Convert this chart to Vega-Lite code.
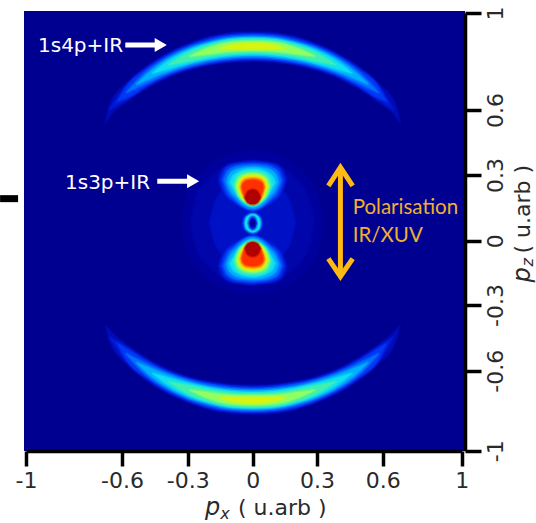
{"$schema":"https://vega.github.io/schema/vega-lite/v6.json","width":441,"height":440,"autosize":{"type":"none"},"padding":{"left":24,"top":11,"right":71,"bottom":72},"background":"white","view":{"fill":"#000090","stroke":null},
"layer":[
{"data":{"values":[
{"x":-0.33,"y":0.082,"y2":0.082,"s":"H0","l":20},{"x":-0.3,"y":0.22,"y2":-0.056,"s":"H0","l":20},{"x":-0.24,"y":0.308,"y2":-0.144,"s":"H0","l":20},{"x":-0.12,"y":0.389,"y2":-0.225,"s":"H0","l":20},{"x":0,"y":0.412,"y2":-0.248,"s":"H0","l":20},{"x":0.12,"y":0.389,"y2":-0.225,"s":"H0","l":20},{"x":0.24,"y":0.308,"y2":-0.144,"s":"H0","l":20},{"x":0.3,"y":0.22,"y2":-0.056,"s":"H0","l":20},{"x":0.33,"y":0.082,"y2":0.082,"s":"H0","l":20},
{"x":-0.286,"y":0.082,"y2":0.082,"s":"H1","l":21},{"x":-0.26,"y":0.201,"y2":-0.037,"s":"H1","l":21},{"x":-0.2,"y":0.286,"y2":-0.122,"s":"H1","l":21},{"x":-0.1,"y":0.35,"y2":-0.186,"s":"H1","l":21},{"x":0,"y":0.368,"y2":-0.204,"s":"H1","l":21},{"x":0.1,"y":0.35,"y2":-0.186,"s":"H1","l":21},{"x":0.2,"y":0.286,"y2":-0.122,"s":"H1","l":21},{"x":0.26,"y":0.201,"y2":-0.037,"s":"H1","l":21},{"x":0.286,"y":0.082,"y2":0.082,"s":"H1","l":21},
{"x":-0.2,"y":0.082,"y2":0.082,"s":"H2","l":24},{"x":-0.17,"y":0.187,"y2":-0.023,"s":"H2","l":24},{"x":-0.1,"y":0.255,"y2":-0.091,"s":"H2","l":24},{"x":0,"y":0.282,"y2":-0.118,"s":"H2","l":24},{"x":0.1,"y":0.255,"y2":-0.091,"s":"H2","l":24},{"x":0.17,"y":0.187,"y2":-0.023,"s":"H2","l":24},{"x":0.2,"y":0.082,"y2":0.082,"s":"H2","l":24},

{"x":-0.668,"y":0.55,"y2":0.545,"s":"A0","l":23},{"x":-0.646,"y":0.631,"y2":0.579,"s":"A0","l":23},{"x":-0.583,"y":0.707,"y2":0.633,"s":"A0","l":23},{"x":-0.486,"y":0.781,"y2":0.691,"s":"A0","l":23},{"x":-0.389,"y":0.835,"y2":0.736,"s":"A0","l":23},{"x":-0.292,"y":0.874,"y2":0.767,"s":"A0","l":23},{"x":-0.194,"y":0.903,"y2":0.788,"s":"A0","l":23},{"x":-0.097,"y":0.918,"y2":0.798,"s":"A0","l":23},{"x":0,"y":0.922,"y2":0.802,"s":"A0","l":23},{"x":0.097,"y":0.918,"y2":0.798,"s":"A0","l":23},{"x":0.194,"y":0.903,"y2":0.788,"s":"A0","l":23},{"x":0.292,"y":0.874,"y2":0.767,"s":"A0","l":23},{"x":0.389,"y":0.835,"y2":0.736,"s":"A0","l":23},{"x":0.486,"y":0.781,"y2":0.691,"s":"A0","l":23},{"x":0.583,"y":0.707,"y2":0.633,"s":"A0","l":23},{"x":0.66,"y":0.631,"y2":0.579,"s":"A0","l":23},{"x":0.686,"y":0.55,"y2":0.545,"s":"A0","l":23},
{"x":-0.655,"y":0.6,"y2":0.6,"s":"A1","l":1},{"x":-0.583,"y":0.7,"y2":0.64,"s":"A1","l":1},{"x":-0.486,"y":0.776,"y2":0.696,"s":"A1","l":1},{"x":-0.389,"y":0.831,"y2":0.74,"s":"A1","l":1},{"x":-0.292,"y":0.87,"y2":0.771,"s":"A1","l":1},{"x":-0.194,"y":0.899,"y2":0.791,"s":"A1","l":1},{"x":-0.097,"y":0.914,"y2":0.802,"s":"A1","l":1},{"x":0,"y":0.918,"y2":0.806,"s":"A1","l":1},{"x":0.097,"y":0.914,"y2":0.802,"s":"A1","l":1},{"x":0.194,"y":0.899,"y2":0.791,"s":"A1","l":1},{"x":0.292,"y":0.87,"y2":0.771,"s":"A1","l":1},{"x":0.389,"y":0.831,"y2":0.74,"s":"A1","l":1},{"x":0.486,"y":0.776,"y2":0.696,"s":"A1","l":1},{"x":0.583,"y":0.7,"y2":0.64,"s":"A1","l":1},{"x":0.655,"y":0.6,"y2":0.6,"s":"A1","l":1},
{"x":-0.62,"y":0.635,"y2":0.635,"s":"A2","l":2},{"x":-0.583,"y":0.693,"y2":0.647,"s":"A2","l":2},{"x":-0.486,"y":0.771,"y2":0.701,"s":"A2","l":2},{"x":-0.389,"y":0.827,"y2":0.744,"s":"A2","l":2},{"x":-0.292,"y":0.866,"y2":0.775,"s":"A2","l":2},{"x":-0.194,"y":0.895,"y2":0.794,"s":"A2","l":2},{"x":-0.097,"y":0.909,"y2":0.806,"s":"A2","l":2},{"x":0,"y":0.913,"y2":0.81,"s":"A2","l":2},{"x":0.097,"y":0.909,"y2":0.806,"s":"A2","l":2},{"x":0.194,"y":0.895,"y2":0.794,"s":"A2","l":2},{"x":0.292,"y":0.866,"y2":0.775,"s":"A2","l":2},{"x":0.389,"y":0.827,"y2":0.744,"s":"A2","l":2},{"x":0.486,"y":0.771,"y2":0.701,"s":"A2","l":2},{"x":0.583,"y":0.693,"y2":0.647,"s":"A2","l":2},{"x":0.62,"y":0.635,"y2":0.635,"s":"A2","l":2},
{"x":-0.583,"y":0.67,"y2":0.67,"s":"A3","l":3},{"x":-0.486,"y":0.761,"y2":0.711,"s":"A3","l":3},{"x":-0.389,"y":0.819,"y2":0.751,"s":"A3","l":3},{"x":-0.292,"y":0.86,"y2":0.779,"s":"A3","l":3},{"x":-0.194,"y":0.887,"y2":0.8,"s":"A3","l":3},{"x":-0.097,"y":0.903,"y2":0.812,"s":"A3","l":3},{"x":0,"y":0.907,"y2":0.816,"s":"A3","l":3},{"x":0.097,"y":0.903,"y2":0.812,"s":"A3","l":3},{"x":0.194,"y":0.887,"y2":0.8,"s":"A3","l":3},{"x":0.292,"y":0.86,"y2":0.779,"s":"A3","l":3},{"x":0.389,"y":0.819,"y2":0.751,"s":"A3","l":3},{"x":0.486,"y":0.761,"y2":0.711,"s":"A3","l":3},{"x":0.583,"y":0.67,"y2":0.67,"s":"A3","l":3},
{"x":-0.535,"y":0.705,"y2":0.705,"s":"A4","l":4},{"x":-0.486,"y":0.748,"y2":0.724,"s":"A4","l":4},{"x":-0.389,"y":0.812,"y2":0.759,"s":"A4","l":4},{"x":-0.292,"y":0.854,"y2":0.788,"s":"A4","l":4},{"x":-0.194,"y":0.88,"y2":0.808,"s":"A4","l":4},{"x":-0.097,"y":0.897,"y2":0.819,"s":"A4","l":4},{"x":0,"y":0.901,"y2":0.823,"s":"A4","l":4},{"x":0.097,"y":0.897,"y2":0.819,"s":"A4","l":4},{"x":0.194,"y":0.88,"y2":0.808,"s":"A4","l":4},{"x":0.292,"y":0.854,"y2":0.788,"s":"A4","l":4},{"x":0.389,"y":0.812,"y2":0.759,"s":"A4","l":4},{"x":0.486,"y":0.748,"y2":0.724,"s":"A4","l":4},{"x":0.535,"y":0.705,"y2":0.705,"s":"A4","l":4},
{"x":-0.462,"y":0.751,"y2":0.751,"s":"A5","l":5},{"x":-0.389,"y":0.802,"y2":0.769,"s":"A5","l":5},{"x":-0.292,"y":0.847,"y2":0.794,"s":"A5","l":5},{"x":-0.194,"y":0.876,"y2":0.812,"s":"A5","l":5},{"x":-0.097,"y":0.893,"y2":0.825,"s":"A5","l":5},{"x":0,"y":0.897,"y2":0.829,"s":"A5","l":5},{"x":0.097,"y":0.893,"y2":0.825,"s":"A5","l":5},{"x":0.194,"y":0.876,"y2":0.812,"s":"A5","l":5},{"x":0.292,"y":0.847,"y2":0.794,"s":"A5","l":5},{"x":0.389,"y":0.802,"y2":0.769,"s":"A5","l":5},{"x":0.462,"y":0.751,"y2":0.751,"s":"A5","l":5},
{"x":-0.389,"y":0.786,"y2":0.786,"s":"A6","l":6},{"x":-0.292,"y":0.839,"y2":0.802,"s":"A6","l":6},{"x":-0.194,"y":0.87,"y2":0.821,"s":"A6","l":6},{"x":-0.097,"y":0.889,"y2":0.831,"s":"A6","l":6},{"x":0,"y":0.893,"y2":0.835,"s":"A6","l":6},{"x":0.097,"y":0.889,"y2":0.831,"s":"A6","l":6},{"x":0.194,"y":0.87,"y2":0.821,"s":"A6","l":6},{"x":0.292,"y":0.839,"y2":0.802,"s":"A6","l":6},{"x":0.389,"y":0.786,"y2":0.786,"s":"A6","l":6},
{"x":-0.292,"y":0.821,"y2":0.821,"s":"A7","l":7},{"x":-0.194,"y":0.86,"y2":0.831,"s":"A7","l":7},{"x":-0.097,"y":0.88,"y2":0.841,"s":"A7","l":7},{"x":0,"y":0.885,"y2":0.844,"s":"A7","l":7},{"x":0.097,"y":0.88,"y2":0.841,"s":"A7","l":7},{"x":0.194,"y":0.86,"y2":0.831,"s":"A7","l":7},{"x":0.292,"y":0.821,"y2":0.821,"s":"A7","l":7},
{"x":-0.155,"y":0.854,"y2":0.854,"s":"A8","l":8},{"x":-0.097,"y":0.868,"y2":0.852,"s":"A8","l":8},{"x":0,"y":0.876,"y2":0.852,"s":"A8","l":8},{"x":0.097,"y":0.868,"y2":0.852,"s":"A8","l":8},{"x":0.155,"y":0.854,"y2":0.854,"s":"A8","l":8},

{"x":-0.668,"y":-0.39,"y2":-0.395,"s":"B0","l":23},{"x":-0.646,"y":-0.478,"y2":-0.422,"s":"B0","l":23},{"x":-0.583,"y":-0.563,"y2":-0.48,"s":"B0","l":23},{"x":-0.486,"y":-0.649,"y2":-0.545,"s":"B0","l":23},{"x":-0.389,"y":-0.714,"y2":-0.595,"s":"B0","l":23},{"x":-0.292,"y":-0.76,"y2":-0.632,"s":"B0","l":23},{"x":-0.194,"y":-0.795,"y2":-0.657,"s":"B0","l":23},{"x":-0.097,"y":-0.812,"y2":-0.669,"s":"B0","l":23},{"x":0,"y":-0.817,"y2":-0.674,"s":"B0","l":23},{"x":0.097,"y":-0.812,"y2":-0.669,"s":"B0","l":23},{"x":0.194,"y":-0.795,"y2":-0.657,"s":"B0","l":23},{"x":0.292,"y":-0.76,"y2":-0.632,"s":"B0","l":23},{"x":0.389,"y":-0.714,"y2":-0.595,"s":"B0","l":23},{"x":0.486,"y":-0.649,"y2":-0.545,"s":"B0","l":23},{"x":0.583,"y":-0.563,"y2":-0.48,"s":"B0","l":23},{"x":0.66,"y":-0.478,"y2":-0.422,"s":"B0","l":23},{"x":0.686,"y":-0.39,"y2":-0.395,"s":"B0","l":23},
{"x":-0.655,"y":-0.445,"y2":-0.445,"s":"B1","l":1},{"x":-0.583,"y":-0.555,"y2":-0.488,"s":"B1","l":1},{"x":-0.486,"y":-0.643,"y2":-0.55,"s":"B1","l":1},{"x":-0.389,"y":-0.709,"y2":-0.6,"s":"B1","l":1},{"x":-0.292,"y":-0.755,"y2":-0.637,"s":"B1","l":1},{"x":-0.194,"y":-0.79,"y2":-0.66,"s":"B1","l":1},{"x":-0.097,"y":-0.807,"y2":-0.674,"s":"B1","l":1},{"x":0,"y":-0.812,"y2":-0.679,"s":"B1","l":1},{"x":0.097,"y":-0.807,"y2":-0.674,"s":"B1","l":1},{"x":0.194,"y":-0.79,"y2":-0.66,"s":"B1","l":1},{"x":0.292,"y":-0.755,"y2":-0.637,"s":"B1","l":1},{"x":0.389,"y":-0.709,"y2":-0.6,"s":"B1","l":1},{"x":0.486,"y":-0.643,"y2":-0.55,"s":"B1","l":1},{"x":0.583,"y":-0.555,"y2":-0.488,"s":"B1","l":1},{"x":0.655,"y":-0.445,"y2":-0.445,"s":"B1","l":1},
{"x":-0.62,"y":-0.475,"y2":-0.475,"s":"B2","l":2},{"x":-0.583,"y":-0.547,"y2":-0.496,"s":"B2","l":2},{"x":-0.486,"y":-0.637,"y2":-0.556,"s":"B2","l":2},{"x":-0.389,"y":-0.704,"y2":-0.605,"s":"B2","l":2},{"x":-0.292,"y":-0.751,"y2":-0.642,"s":"B2","l":2},{"x":-0.194,"y":-0.785,"y2":-0.664,"s":"B2","l":2},{"x":-0.097,"y":-0.802,"y2":-0.679,"s":"B2","l":2},{"x":0,"y":-0.807,"y2":-0.684,"s":"B2","l":2},{"x":0.097,"y":-0.802,"y2":-0.679,"s":"B2","l":2},{"x":0.194,"y":-0.785,"y2":-0.664,"s":"B2","l":2},{"x":0.292,"y":-0.751,"y2":-0.642,"s":"B2","l":2},{"x":0.389,"y":-0.704,"y2":-0.605,"s":"B2","l":2},{"x":0.486,"y":-0.637,"y2":-0.556,"s":"B2","l":2},{"x":0.583,"y":-0.547,"y2":-0.496,"s":"B2","l":2},{"x":0.62,"y":-0.475,"y2":-0.475,"s":"B2","l":2},
{"x":-0.583,"y":-0.521,"y2":-0.521,"s":"B3","l":3},{"x":-0.486,"y":-0.625,"y2":-0.568,"s":"B3","l":3},{"x":-0.389,"y":-0.694,"y2":-0.612,"s":"B3","l":3},{"x":-0.292,"y":-0.743,"y2":-0.647,"s":"B3","l":3},{"x":-0.194,"y":-0.775,"y2":-0.672,"s":"B3","l":3},{"x":-0.097,"y":-0.795,"y2":-0.686,"s":"B3","l":3},{"x":0,"y":-0.8,"y2":-0.691,"s":"B3","l":3},{"x":0.097,"y":-0.795,"y2":-0.686,"s":"B3","l":3},{"x":0.194,"y":-0.775,"y2":-0.672,"s":"B3","l":3},{"x":0.292,"y":-0.743,"y2":-0.647,"s":"B3","l":3},{"x":0.389,"y":-0.694,"y2":-0.612,"s":"B3","l":3},{"x":0.486,"y":-0.625,"y2":-0.568,"s":"B3","l":3},{"x":0.583,"y":-0.521,"y2":-0.521,"s":"B3","l":3},
{"x":-0.535,"y":-0.561,"y2":-0.561,"s":"B4","l":4},{"x":-0.486,"y":-0.61,"y2":-0.581,"s":"B4","l":4},{"x":-0.389,"y":-0.686,"y2":-0.622,"s":"B4","l":4},{"x":-0.292,"y":-0.736,"y2":-0.657,"s":"B4","l":4},{"x":-0.194,"y":-0.768,"y2":-0.681,"s":"B4","l":4},{"x":-0.097,"y":-0.788,"y2":-0.694,"s":"B4","l":4},{"x":0,"y":-0.793,"y2":-0.699,"s":"B4","l":4},{"x":0.097,"y":-0.788,"y2":-0.694,"s":"B4","l":4},{"x":0.194,"y":-0.768,"y2":-0.681,"s":"B4","l":4},{"x":0.292,"y":-0.736,"y2":-0.657,"s":"B4","l":4},{"x":0.389,"y":-0.686,"y2":-0.622,"s":"B4","l":4},{"x":0.486,"y":-0.61,"y2":-0.581,"s":"B4","l":4},{"x":0.535,"y":-0.561,"y2":-0.561,"s":"B4","l":4},
{"x":-0.462,"y":-0.612,"y2":-0.612,"s":"B5","l":5},{"x":-0.389,"y":-0.674,"y2":-0.635,"s":"B5","l":5},{"x":-0.292,"y":-0.728,"y2":-0.664,"s":"B5","l":5},{"x":-0.194,"y":-0.763,"y2":-0.686,"s":"B5","l":5},{"x":-0.097,"y":-0.783,"y2":-0.701,"s":"B5","l":5},{"x":0,"y":-0.788,"y2":-0.706,"s":"B5","l":5},{"x":0.097,"y":-0.783,"y2":-0.701,"s":"B5","l":5},{"x":0.194,"y":-0.763,"y2":-0.686,"s":"B5","l":5},{"x":0.292,"y":-0.728,"y2":-0.664,"s":"B5","l":5},{"x":0.389,"y":-0.674,"y2":-0.635,"s":"B5","l":5},{"x":0.462,"y":-0.612,"y2":-0.612,"s":"B5","l":5},
{"x":-0.389,"y":-0.654,"y2":-0.654,"s":"B6","l":6},{"x":-0.292,"y":-0.719,"y2":-0.674,"s":"B6","l":6},{"x":-0.194,"y":-0.756,"y2":-0.696,"s":"B6","l":6},{"x":-0.097,"y":-0.778,"y2":-0.709,"s":"B6","l":6},{"x":0,"y":-0.783,"y2":-0.714,"s":"B6","l":6},{"x":0.097,"y":-0.778,"y2":-0.709,"s":"B6","l":6},{"x":0.194,"y":-0.756,"y2":-0.696,"s":"B6","l":6},{"x":0.292,"y":-0.719,"y2":-0.674,"s":"B6","l":6},{"x":0.389,"y":-0.654,"y2":-0.654,"s":"B6","l":6},
{"x":-0.292,"y":-0.696,"y2":-0.696,"s":"B7","l":7},{"x":-0.194,"y":-0.743,"y2":-0.709,"s":"B7","l":7},{"x":-0.097,"y":-0.768,"y2":-0.721,"s":"B7","l":7},{"x":0,"y":-0.773,"y2":-0.723,"s":"B7","l":7},{"x":0.097,"y":-0.768,"y2":-0.721,"s":"B7","l":7},{"x":0.194,"y":-0.743,"y2":-0.709,"s":"B7","l":7},{"x":0.292,"y":-0.696,"y2":-0.696,"s":"B7","l":7},
{"x":-0.155,"y":-0.736,"y2":-0.736,"s":"B8","l":8},{"x":-0.097,"y":-0.753,"y2":-0.733,"s":"B8","l":8},{"x":0,"y":-0.763,"y2":-0.733,"s":"B8","l":8},{"x":0.097,"y":-0.753,"y2":-0.733,"s":"B8","l":8},{"x":0.155,"y":-0.736,"y2":-0.736,"s":"B8","l":8},

{"x":-0.158,"y":0.277,"y2":0.277,"s":"C1","l":1},{"x":-0.146,"y":0.314,"y2":0.242,"s":"C1","l":1},{"x":-0.123,"y":0.342,"y2":0.203,"s":"C1","l":1},{"x":-0.092,"y":0.354,"y2":0.172,"s":"C1","l":1},{"x":-0.046,"y":0.36,"y2":0.149,"s":"C1","l":1},{"x":0,"y":0.365,"y2":0.134,"s":"C1","l":1},{"x":0.046,"y":0.36,"y2":0.149,"s":"C1","l":1},{"x":0.092,"y":0.354,"y2":0.172,"s":"C1","l":1},{"x":0.123,"y":0.342,"y2":0.203,"s":"C1","l":1},{"x":0.146,"y":0.314,"y2":0.242,"s":"C1","l":1},{"x":0.158,"y":0.277,"y2":0.277,"s":"C1","l":1},
{"x":-0.146,"y":0.277,"y2":0.277,"s":"C2","l":2},{"x":-0.126,"y":0.326,"y2":0.217,"s":"C2","l":2},{"x":-0.089,"y":0.347,"y2":0.182,"s":"C2","l":2},{"x":-0.046,"y":0.354,"y2":0.154,"s":"C2","l":2},{"x":0,"y":0.357,"y2":0.137,"s":"C2","l":2},{"x":0.046,"y":0.354,"y2":0.154,"s":"C2","l":2},{"x":0.089,"y":0.347,"y2":0.182,"s":"C2","l":2},{"x":0.126,"y":0.326,"y2":0.217,"s":"C2","l":2},{"x":0.146,"y":0.277,"y2":0.277,"s":"C2","l":2},
{"x":-0.134,"y":0.277,"y2":0.277,"s":"C3","l":3},{"x":-0.118,"y":0.315,"y2":0.231,"s":"C3","l":3},{"x":-0.085,"y":0.337,"y2":0.191,"s":"C3","l":3},{"x":-0.046,"y":0.345,"y2":0.157,"s":"C3","l":3},{"x":0,"y":0.349,"y2":0.142,"s":"C3","l":3},{"x":0.046,"y":0.345,"y2":0.157,"s":"C3","l":3},{"x":0.085,"y":0.337,"y2":0.191,"s":"C3","l":3},{"x":0.118,"y":0.315,"y2":0.231,"s":"C3","l":3},{"x":0.134,"y":0.277,"y2":0.277,"s":"C3","l":3},
{"x":-0.12,"y":0.269,"y2":0.269,"s":"C4","l":4},{"x":-0.108,"y":0.303,"y2":0.238,"s":"C4","l":4},{"x":-0.077,"y":0.326,"y2":0.198,"s":"C4","l":4},{"x":-0.043,"y":0.335,"y2":0.165,"s":"C4","l":4},{"x":0,"y":0.338,"y2":0.149,"s":"C4","l":4},{"x":0.043,"y":0.335,"y2":0.165,"s":"C4","l":4},{"x":0.077,"y":0.326,"y2":0.198,"s":"C4","l":4},{"x":0.108,"y":0.303,"y2":0.238,"s":"C4","l":4},{"x":0.12,"y":0.269,"y2":0.269,"s":"C4","l":4},
{"x":-0.105,"y":0.265,"y2":0.265,"s":"C5","l":5},{"x":-0.095,"y":0.29,"y2":0.246,"s":"C5","l":5},{"x":-0.069,"y":0.312,"y2":0.206,"s":"C5","l":5},{"x":-0.038,"y":0.324,"y2":0.172,"s":"C5","l":5},{"x":0,"y":0.329,"y2":0.157,"s":"C5","l":5},{"x":0.038,"y":0.324,"y2":0.172,"s":"C5","l":5},{"x":0.069,"y":0.312,"y2":0.206,"s":"C5","l":5},{"x":0.095,"y":0.29,"y2":0.246,"s":"C5","l":5},{"x":0.105,"y":0.265,"y2":0.265,"s":"C5","l":5},
{"x":-0.088,"y":0.257,"y2":0.257,"s":"C6","l":6},{"x":-0.07,"y":0.298,"y2":0.208,"s":"C6","l":6},{"x":-0.034,"y":0.315,"y2":0.174,"s":"C6","l":6},{"x":0,"y":0.318,"y2":0.16,"s":"C6","l":6},{"x":0.034,"y":0.315,"y2":0.174,"s":"C6","l":6},{"x":0.07,"y":0.298,"y2":0.208,"s":"C6","l":6},{"x":0.088,"y":0.257,"y2":0.257,"s":"C6","l":6},
{"x":-0.078,"y":0.249,"y2":0.249,"s":"C7","l":7},{"x":-0.065,"y":0.285,"y2":0.211,"s":"C7","l":7},{"x":-0.031,"y":0.304,"y2":0.175,"s":"C7","l":7},{"x":0,"y":0.308,"y2":0.165,"s":"C7","l":7},{"x":0.031,"y":0.304,"y2":0.175,"s":"C7","l":7},{"x":0.065,"y":0.285,"y2":0.211,"s":"C7","l":7},{"x":0.078,"y":0.249,"y2":0.249,"s":"C7","l":7},
{"x":-0.068,"y":0.249,"y2":0.249,"s":"C8","l":8},{"x":-0.058,"y":0.276,"y2":0.215,"s":"C8","l":8},{"x":-0.031,"y":0.296,"y2":0.182,"s":"C8","l":8},{"x":0,"y":0.3,"y2":0.169,"s":"C8","l":8},{"x":0.031,"y":0.296,"y2":0.182,"s":"C8","l":8},{"x":0.058,"y":0.276,"y2":0.215,"s":"C8","l":8},{"x":0.068,"y":0.249,"y2":0.249,"s":"C8","l":8},
{"x":-0.06,"y":0.246,"y2":0.246,"s":"C9","l":9},{"x":-0.053,"y":0.27,"y2":0.222,"s":"C9","l":9},{"x":-0.031,"y":0.288,"y2":0.188,"s":"C9","l":9},{"x":0,"y":0.292,"y2":0.172,"s":"C9","l":9},{"x":0.031,"y":0.288,"y2":0.188,"s":"C9","l":9},{"x":0.053,"y":0.27,"y2":0.222,"s":"C9","l":9},{"x":0.06,"y":0.246,"y2":0.246,"s":"C9","l":9},
{"x":-0.056,"y":0.245,"y2":0.245,"s":"C10","l":10},{"x":-0.05,"y":0.266,"y2":0.223,"s":"C10","l":10},{"x":-0.029,"y":0.282,"y2":0.189,"s":"C10","l":10},{"x":0,"y":0.285,"y2":0.177,"s":"C10","l":10},{"x":0.029,"y":0.282,"y2":0.189,"s":"C10","l":10},{"x":0.05,"y":0.266,"y2":0.223,"s":"C10","l":10},{"x":0.056,"y":0.245,"y2":0.245,"s":"C10","l":10},
{"x":-0.05,"y":0.242,"y2":0.242,"s":"C11","l":11},{"x":-0.046,"y":0.26,"y2":0.226,"s":"C11","l":11},{"x":-0.028,"y":0.274,"y2":0.191,"s":"C11","l":11},{"x":0,"y":0.278,"y2":0.18,"s":"C11","l":11},{"x":0.028,"y":0.274,"y2":0.191,"s":"C11","l":11},{"x":0.046,"y":0.26,"y2":0.226,"s":"C11","l":11},{"x":0.05,"y":0.242,"y2":0.242,"s":"C11","l":11},
{"x":-0.037,"y":0.195,"y2":0.195,"s":"C12","l":12},{"x":-0.022,"y":0.226,"y2":0.172,"s":"C12","l":12},{"x":0,"y":0.234,"y2":0.165,"s":"C12","l":12},{"x":0.022,"y":0.226,"y2":0.172,"s":"C12","l":12},{"x":0.037,"y":0.195,"y2":0.195,"s":"C12","l":12},

{"x":-0.158,"y":-0.117,"y2":-0.117,"s":"D1","l":1},{"x":-0.146,"y":-0.154,"y2":-0.082,"s":"D1","l":1},{"x":-0.123,"y":-0.182,"y2":-0.043,"s":"D1","l":1},{"x":-0.092,"y":-0.194,"y2":-0.012,"s":"D1","l":1},{"x":-0.046,"y":-0.2,"y2":0.011,"s":"D1","l":1},{"x":0,"y":-0.205,"y2":0.026,"s":"D1","l":1},{"x":0.046,"y":-0.2,"y2":0.011,"s":"D1","l":1},{"x":0.092,"y":-0.194,"y2":-0.012,"s":"D1","l":1},{"x":0.123,"y":-0.182,"y2":-0.043,"s":"D1","l":1},{"x":0.146,"y":-0.154,"y2":-0.082,"s":"D1","l":1},{"x":0.158,"y":-0.117,"y2":-0.117,"s":"D1","l":1},
{"x":-0.146,"y":-0.117,"y2":-0.117,"s":"D2","l":2},{"x":-0.126,"y":-0.166,"y2":-0.057,"s":"D2","l":2},{"x":-0.089,"y":-0.187,"y2":-0.022,"s":"D2","l":2},{"x":-0.046,"y":-0.194,"y2":0.006,"s":"D2","l":2},{"x":0,"y":-0.197,"y2":0.023,"s":"D2","l":2},{"x":0.046,"y":-0.194,"y2":0.006,"s":"D2","l":2},{"x":0.089,"y":-0.187,"y2":-0.022,"s":"D2","l":2},{"x":0.126,"y":-0.166,"y2":-0.057,"s":"D2","l":2},{"x":0.146,"y":-0.117,"y2":-0.117,"s":"D2","l":2},
{"x":-0.134,"y":-0.117,"y2":-0.117,"s":"D3","l":3},{"x":-0.118,"y":-0.155,"y2":-0.071,"s":"D3","l":3},{"x":-0.085,"y":-0.177,"y2":-0.031,"s":"D3","l":3},{"x":-0.046,"y":-0.185,"y2":0.003,"s":"D3","l":3},{"x":0,"y":-0.189,"y2":0.018,"s":"D3","l":3},{"x":0.046,"y":-0.185,"y2":0.003,"s":"D3","l":3},{"x":0.085,"y":-0.177,"y2":-0.031,"s":"D3","l":3},{"x":0.118,"y":-0.155,"y2":-0.071,"s":"D3","l":3},{"x":0.134,"y":-0.117,"y2":-0.117,"s":"D3","l":3},
{"x":-0.12,"y":-0.109,"y2":-0.109,"s":"D4","l":4},{"x":-0.108,"y":-0.143,"y2":-0.078,"s":"D4","l":4},{"x":-0.077,"y":-0.166,"y2":-0.038,"s":"D4","l":4},{"x":-0.043,"y":-0.175,"y2":-0.005,"s":"D4","l":4},{"x":0,"y":-0.178,"y2":0.011,"s":"D4","l":4},{"x":0.043,"y":-0.175,"y2":-0.005,"s":"D4","l":4},{"x":0.077,"y":-0.166,"y2":-0.038,"s":"D4","l":4},{"x":0.108,"y":-0.143,"y2":-0.078,"s":"D4","l":4},{"x":0.12,"y":-0.109,"y2":-0.109,"s":"D4","l":4},
{"x":-0.105,"y":-0.105,"y2":-0.105,"s":"D5","l":5},{"x":-0.095,"y":-0.13,"y2":-0.086,"s":"D5","l":5},{"x":-0.069,"y":-0.152,"y2":-0.046,"s":"D5","l":5},{"x":-0.038,"y":-0.164,"y2":-0.012,"s":"D5","l":5},{"x":0,"y":-0.169,"y2":0.003,"s":"D5","l":5},{"x":0.038,"y":-0.164,"y2":-0.012,"s":"D5","l":5},{"x":0.069,"y":-0.152,"y2":-0.046,"s":"D5","l":5},{"x":0.095,"y":-0.13,"y2":-0.086,"s":"D5","l":5},{"x":0.105,"y":-0.105,"y2":-0.105,"s":"D5","l":5},
{"x":-0.088,"y":-0.097,"y2":-0.097,"s":"D6","l":6},{"x":-0.07,"y":-0.138,"y2":-0.048,"s":"D6","l":6},{"x":-0.034,"y":-0.155,"y2":-0.014,"s":"D6","l":6},{"x":0,"y":-0.158,"y2":0,"s":"D6","l":6},{"x":0.034,"y":-0.155,"y2":-0.014,"s":"D6","l":6},{"x":0.07,"y":-0.138,"y2":-0.048,"s":"D6","l":6},{"x":0.088,"y":-0.097,"y2":-0.097,"s":"D6","l":6},
{"x":-0.078,"y":-0.089,"y2":-0.089,"s":"D7","l":7},{"x":-0.065,"y":-0.125,"y2":-0.051,"s":"D7","l":7},{"x":-0.031,"y":-0.144,"y2":-0.015,"s":"D7","l":7},{"x":0,"y":-0.148,"y2":-0.005,"s":"D7","l":7},{"x":0.031,"y":-0.144,"y2":-0.015,"s":"D7","l":7},{"x":0.065,"y":-0.125,"y2":-0.051,"s":"D7","l":7},{"x":0.078,"y":-0.089,"y2":-0.089,"s":"D7","l":7},
{"x":-0.068,"y":-0.089,"y2":-0.089,"s":"D8","l":8},{"x":-0.058,"y":-0.116,"y2":-0.055,"s":"D8","l":8},{"x":-0.031,"y":-0.136,"y2":-0.022,"s":"D8","l":8},{"x":0,"y":-0.14,"y2":-0.009,"s":"D8","l":8},{"x":0.031,"y":-0.136,"y2":-0.022,"s":"D8","l":8},{"x":0.058,"y":-0.116,"y2":-0.055,"s":"D8","l":8},{"x":0.068,"y":-0.089,"y2":-0.089,"s":"D8","l":8},
{"x":-0.06,"y":-0.086,"y2":-0.086,"s":"D9","l":9},{"x":-0.053,"y":-0.11,"y2":-0.062,"s":"D9","l":9},{"x":-0.031,"y":-0.128,"y2":-0.028,"s":"D9","l":9},{"x":0,"y":-0.132,"y2":-0.012,"s":"D9","l":9},{"x":0.031,"y":-0.128,"y2":-0.028,"s":"D9","l":9},{"x":0.053,"y":-0.11,"y2":-0.062,"s":"D9","l":9},{"x":0.06,"y":-0.086,"y2":-0.086,"s":"D9","l":9},
{"x":-0.056,"y":-0.085,"y2":-0.085,"s":"D10","l":10},{"x":-0.05,"y":-0.106,"y2":-0.063,"s":"D10","l":10},{"x":-0.029,"y":-0.122,"y2":-0.029,"s":"D10","l":10},{"x":0,"y":-0.125,"y2":-0.017,"s":"D10","l":10},{"x":0.029,"y":-0.122,"y2":-0.029,"s":"D10","l":10},{"x":0.05,"y":-0.106,"y2":-0.063,"s":"D10","l":10},{"x":0.056,"y":-0.085,"y2":-0.085,"s":"D10","l":10},
{"x":-0.05,"y":-0.082,"y2":-0.082,"s":"D11","l":11},{"x":-0.046,"y":-0.1,"y2":-0.066,"s":"D11","l":11},{"x":-0.028,"y":-0.114,"y2":-0.031,"s":"D11","l":11},{"x":0,"y":-0.118,"y2":-0.02,"s":"D11","l":11},{"x":0.028,"y":-0.114,"y2":-0.031,"s":"D11","l":11},{"x":0.046,"y":-0.1,"y2":-0.066,"s":"D11","l":11},{"x":0.05,"y":-0.082,"y2":-0.082,"s":"D11","l":11},
{"x":-0.037,"y":-0.035,"y2":-0.035,"s":"D12","l":12},{"x":-0.022,"y":-0.066,"y2":-0.012,"s":"D12","l":12},{"x":0,"y":-0.074,"y2":-0.005,"s":"D12","l":12},{"x":0.022,"y":-0.066,"y2":-0.012,"s":"D12","l":12},{"x":0.037,"y":-0.035,"y2":-0.035,"s":"D12","l":12},

{"x":-0.046,"y":0.08,"y2":0.08,"s":"R1","l":2},{"x":-0.042,"y":0.1,"y2":0.06,"s":"R1","l":2},{"x":-0.032,"y":0.115,"y2":0.045,"s":"R1","l":2},{"x":0,"y":0.129,"y2":0.031,"s":"R1","l":2},{"x":0.032,"y":0.115,"y2":0.045,"s":"R1","l":2},{"x":0.042,"y":0.1,"y2":0.06,"s":"R1","l":2},{"x":0.046,"y":0.08,"y2":0.08,"s":"R1","l":2},
{"x":-0.037,"y":0.08,"y2":0.08,"s":"R2","l":5},{"x":-0.034,"y":0.097,"y2":0.063,"s":"R2","l":5},{"x":-0.026,"y":0.11,"y2":0.05,"s":"R2","l":5},{"x":0,"y":0.122,"y2":0.038,"s":"R2","l":5},{"x":0.026,"y":0.11,"y2":0.05,"s":"R2","l":5},{"x":0.034,"y":0.097,"y2":0.063,"s":"R2","l":5},{"x":0.037,"y":0.08,"y2":0.08,"s":"R2","l":5},
{"x":-0.02,"y":0.08,"y2":0.08,"s":"R3","l":2},{"x":-0.014,"y":0.101,"y2":0.059,"s":"R3","l":2},{"x":0,"y":0.11,"y2":0.05,"s":"R3","l":2},{"x":0.014,"y":0.101,"y2":0.059,"s":"R3","l":2},{"x":0.02,"y":0.08,"y2":0.08,"s":"R3","l":2},
{"x":-0.012,"y":0.08,"y2":0.08,"s":"R4","l":22},{"x":-0.008,"y":0.093,"y2":0.067,"s":"R4","l":22},{"x":0,"y":0.099,"y2":0.061,"s":"R4","l":22},{"x":0.008,"y":0.093,"y2":0.067,"s":"R4","l":22},{"x":0.012,"y":0.08,"y2":0.08,"s":"R4","l":22}
]},
"mark":{"type":"area","interpolate":"monotone","orient":"vertical","strokeWidth":2.5,"strokeOpacity":0.45},
"encoding":{
"x":{"field":"x","type":"quantitative","scale":{"domain":[-1,-0.6,-0.3,0,0.3,0.6,1],"range":[2,98,163.7,228.7,293,358.7,437.7],"nice":false,"zero":false},
"axis":{"orient":"bottom","title":null,"values":[-1,-0.6,-0.3,0,0.3,0.6,1],"grid":false,"domainColor":"black","domainWidth":3.5,"tickColor":"black","tickWidth":3.5,"tickSize":15,"labelFont":"DejaVu Sans","labelFontSize":22,"labelColor":"#2a2a2a","labelPadding":4,"labelExpr":"datum.value+''","labelFlush":false,"labelOverlap":false,"zindex":1,"encoding":{"labels":{"update":{"dx":{"signal":"datum.value<0?-6:0"}}}}}},
"y":{"field":"y","type":"quantitative","stack":null,"scale":{"domain":[-1,-0.6,-0.3,0,0.3,0.6,1],"range":[439.7,359.7,294,229.7,164,99,2],"nice":false,"zero":false},
"axis":{"orient":"right","title":null,"values":[-1,-0.6,-0.3,0,0.3,0.6,1],"grid":false,"domainColor":"black","domainWidth":3.5,"tickColor":"black","tickWidth":3.5,"tickSize":16,"labelFont":"DejaVu Sans","labelFontSize":22,"labelColor":"#2a2a2a","labelPadding":14,"labelAngle":270,"labelAlign":"center","labelBaseline":"middle","labelExpr":"datum.value+''","labelFlush":false,"labelOverlap":false,"zindex":1,"encoding":{"labels":{"update":{"dx":{"signal":"datum.value<0?-7:0"}}}}}},
"y2":{"field":"y2"},
"color":{"field":"l","type":"ordinal","legend":null,"scale":{"domain":[20,21,24,23,22,1,2,3,4,5,6,7,8,9,10,11,12],"range":["#00009c","#0006aa","#0010c4","#000cb8","#000098","#0018d4","#0038f4","#0070ff","#00b0ff","#10e0f0","#40f0b0","#90ff60","#d8f410","#ffd000","#ff8000","#ff3000","#b00000"]}},
"stroke":{"field":"l","type":"ordinal","legend":null,"scale":{"domain":[20,21,24,23,22,1,2,3,4,5,6,7,8,9,10,11,12],"range":["#00009c","#0006aa","#0010c4","#000cb8","#000098","#0018d4","#0038f4","#0070ff","#00b0ff","#10e0f0","#40f0b0","#90ff60","#d8f410","#ffd000","#ff8000","#ff3000","#b00000"]}},
"detail":{"field":"s"}}},
{"data":{"values":[{"a":-1.108,"b":-1.033,"c":0.192}]},"mark":{"type":"rule","color":"black","strokeWidth":7},"encoding":{"x":{"field":"a","type":"quantitative"},"x2":{"field":"b"},"y":{"field":"c","type":"quantitative"}}},
{"data":{"values":[{"x":-0.585,"y":0.868,"g":"a"},{"x":-0.43,"y":0.868,"g":"a"},{"x":-0.439,"y":0.272,"g":"b"},{"x":-0.28,"y":0.272,"g":"b"}]},"mark":{"type":"line","color":"white","strokeWidth":5},"encoding":{"x":{"field":"x","type":"quantitative"},"y":{"field":"y","type":"quantitative"},"detail":{"field":"g"}}},
{"data":{"values":[{"x":-0.423,"y":0.868},{"x":-0.275,"y":0.272}]},"mark":{"type":"point","shape":"triangle-right","filled":true,"color":"white","opacity":1,"size":196},"encoding":{"x":{"field":"x","type":"quantitative"},"y":{"field":"y","type":"quantitative"}}},
{"data":{"values":[{"x":0.407,"y":0.33,"g":"s","i":1},{"x":0.407,"y":-0.165,"g":"s","i":2},{"x":0.352,"y":0.25,"g":"t","i":1},{"x":0.407,"y":0.335,"g":"t","i":2},{"x":0.463,"y":0.25,"g":"t","i":3},{"x":0.352,"y":-0.084,"g":"u","i":1},{"x":0.407,"y":-0.167,"g":"u","i":2},{"x":0.463,"y":-0.084,"g":"u","i":3}]},"mark":{"type":"line","color":"#ffb914","strokeWidth":5,"strokeJoin":"miter"},"encoding":{"x":{"field":"x","type":"quantitative"},"y":{"field":"y","type":"quantitative"},"detail":{"field":"g"},"order":{"field":"i"}}},
{"data":{"values":[{"x":-0.95,"y":0.839,"t":"1s4p+IR"},{"x":-0.8375,"y":0.234,"t":"1s3p+IR"}]},"mark":{"type":"text","font":"DejaVu Sans","fontSize":20,"color":"white","align":"left","baseline":"alphabetic"},"encoding":{"x":{"field":"x","type":"quantitative"},"y":{"field":"y","type":"quantitative"},"text":{"field":"t"}}},
{"data":{"values":[{"x":0.463,"y":0.122,"t":"Polarisation"},{"x":0.463,"y":-0.006,"t":"IR/XUV"}]},"mark":{"type":"text","font":"Lato","fontSize":20.5,"color":"#eeb030","align":"left","baseline":"alphabetic"},"encoding":{"x":{"field":"x","type":"quantitative"},"y":{"field":"y","type":"quantitative"},"text":{"field":"t"}}},
{"data":{"values":[{"x":-0.22,"y":-1.32,"t":"p"}]},"mark":{"type":"text","font":"DejaVu Sans","fontStyle":"italic","fontSize":24,"color":"#2a2a2a","align":"left","baseline":"alphabetic"},"encoding":{"x":{"field":"x","type":"quantitative"},"y":{"field":"y","type":"quantitative"},"text":{"field":"t"}}},
{"data":{"values":[{"x":-0.15,"y":-1.342,"t":"x"}]},"mark":{"type":"text","font":"DejaVu Sans","fontStyle":"italic","fontSize":16,"color":"#2a2a2a","align":"left","baseline":"alphabetic"},"encoding":{"x":{"field":"x","type":"quantitative"},"y":{"field":"y","type":"quantitative"},"text":{"field":"t"}}},
{"data":{"values":[{"x":-0.068,"y":-1.32,"t":"( u.arb )"}]},"mark":{"type":"text","font":"DejaVu Sans","fontSize":22,"color":"#2a2a2a","align":"left","baseline":"alphabetic"},"encoding":{"x":{"field":"x","type":"quantitative"},"y":{"field":"y","type":"quantitative"},"text":{"field":"t"}}},
{"data":{"values":[{"x":1.344,"y":-0.195,"t":"p"}]},"mark":{"type":"text","font":"DejaVu Sans","fontStyle":"italic","fontSize":24,"color":"#2a2a2a","align":"left","baseline":"alphabetic","angle":270},"encoding":{"x":{"field":"x","type":"quantitative"},"y":{"field":"y","type":"quantitative"},"text":{"field":"t"}}},
{"data":{"values":[{"x":1.36,"y":-0.12,"t":"z"}]},"mark":{"type":"text","font":"DejaVu Sans","fontStyle":"italic","fontSize":16,"color":"#2a2a2a","align":"left","baseline":"alphabetic","angle":270},"encoding":{"x":{"field":"x","type":"quantitative"},"y":{"field":"y","type":"quantitative"},"text":{"field":"t"}}},
{"data":{"values":[{"x":1.344,"y":-0.06,"t":"( u.arb )"}]},"mark":{"type":"text","font":"DejaVu Sans","fontSize":22,"color":"#2a2a2a","align":"left","baseline":"alphabetic","angle":270},"encoding":{"x":{"field":"x","type":"quantitative"},"y":{"field":"y","type":"quantitative"},"text":{"field":"t"}}}
]}
